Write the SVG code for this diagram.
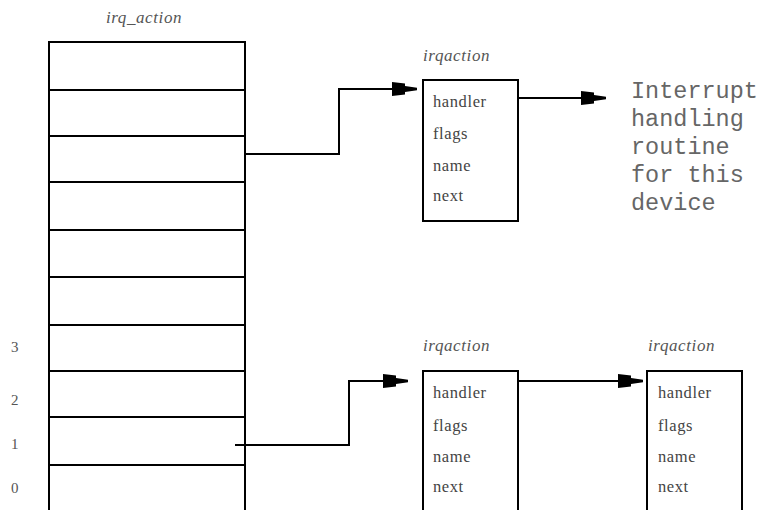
<svg xmlns="http://www.w3.org/2000/svg" width="764" height="510" viewBox="0 0 764 510">
  <style>
    .box { fill: #fff; stroke: #000; stroke-width: 2; }
    .div { stroke: #000; stroke-width: 2; }
    .wire { fill: none; stroke: #000; stroke-width: 2; }
    .head { fill: #000; }
    .title { font-family: "Liberation Serif", serif; font-style: italic; font-size: 17px; letter-spacing: 0.6px; fill: #555; }
    .field { font-family: "Liberation Serif", serif; font-size: 16.5px; letter-spacing: 0.6px; fill: #444; }
    .idx { font-family: "Liberation Serif", serif; font-size: 15px; fill: #555; }
    .mono { font-family: "Liberation Mono", monospace; font-size: 23.5px; fill: #666; }
  </style>
  <defs>
    <!-- blocky arrowhead, tip at the path end -->
    <path id="arrowhead" class="head" d="M -25,-7 L -12,-5.5 L -12,-3 L 0,-1.2 L 0,1.2 L -12,3 L -12,5.5 L -25,7 Z"/>
  </defs>
  <rect width="764" height="510" fill="#fff"/>

  <!-- irq_action table -->
  <g id="irq_action">
    <text class="title" x="144" y="23" text-anchor="middle">irq_action</text>
    <rect class="box" x="49" y="42" width="196" height="480"/>
    <line class="div" x1="49" y1="90" x2="245" y2="90"/>
    <line class="div" x1="49" y1="136" x2="245" y2="136"/>
    <line class="div" x1="49" y1="182" x2="245" y2="182"/>
    <line class="div" x1="49" y1="230" x2="245" y2="230"/>
    <line class="div" x1="49" y1="277" x2="245" y2="277"/>
    <line class="div" x1="49" y1="325" x2="245" y2="325"/>
    <line class="div" x1="49" y1="371" x2="245" y2="371"/>
    <line class="div" x1="49" y1="417" x2="245" y2="417"/>
    <line class="div" x1="49" y1="465" x2="245" y2="465"/>
    <text class="idx" x="11" y="352">3</text>
    <text class="idx" x="11" y="405">2</text>
    <text class="idx" x="11" y="449">1</text>
    <text class="idx" x="11" y="493">0</text>
  </g>

  <!-- irqaction for the upper slot -->
  <g id="irqaction_a">
    <text class="title" x="423" y="61">irqaction</text>
    <rect class="box" x="423" y="80" width="95" height="141"/>
    <text class="field" x="433" y="107">handler</text>
    <text class="field" x="433" y="139">flags</text>
    <text class="field" x="433" y="171">name</text>
    <text class="field" x="433" y="201">next</text>
  </g>

  <!-- handler routine description -->
  <g id="routine">
    <text class="mono" x="631" y="98">Interrupt</text>
    <text class="mono" x="631" y="126">handling</text>
    <text class="mono" x="631" y="154">routine</text>
    <text class="mono" x="631" y="182">for this</text>
    <text class="mono" x="631" y="210">device</text>
  </g>

  <!-- irqaction chain for slot 1 -->
  <g id="irqaction_b">
    <text class="title" x="423" y="351">irqaction</text>
    <rect class="box" x="423" y="371" width="95" height="160"/>
    <text class="field" x="433" y="398">handler</text>
    <text class="field" x="433" y="431">flags</text>
    <text class="field" x="433" y="462">name</text>
    <text class="field" x="433" y="492">next</text>
  </g>

  <g id="irqaction_c">
    <text class="title" x="648" y="351">irqaction</text>
    <rect class="box" x="647" y="371" width="95" height="160"/>
    <text class="field" x="658" y="398">handler</text>
    <text class="field" x="658" y="431">flags</text>
    <text class="field" x="658" y="462">name</text>
    <text class="field" x="658" y="492">next</text>
  </g>

  <!-- connectors -->
  <g id="connectors">
    <polyline class="wire" points="245,154 339,154 339,89 400,89"/>
    <use href="#arrowhead" x="417" y="89"/>
    <polyline class="wire" points="518,98 590,98"/>
    <use href="#arrowhead" x="606" y="98"/>
    <polyline class="wire" points="235,445 349,445 349,381 392,381"/>
    <use href="#arrowhead" x="408" y="381"/>
    <polyline class="wire" points="518,381 627,381"/>
    <use href="#arrowhead" x="643" y="381"/>
  </g>
</svg>
